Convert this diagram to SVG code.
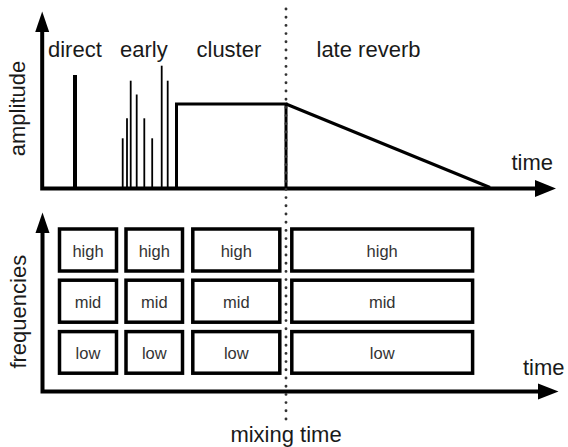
<svg xmlns="http://www.w3.org/2000/svg" width="568" height="447" viewBox="0 0 568 447">
<style>
.lbl{font-family:"Liberation Sans",Arial,sans-serif;font-size:22px;fill:#1a1a1a}
.sm{font-family:"Liberation Sans",Arial,sans-serif;font-size:16.5px;fill:#333;text-anchor:middle}
.axis{fill:none;stroke:#000;stroke-width:4;stroke-linejoin:miter}
.box{fill:#fff;stroke:#000;stroke-width:3.5}
.spike{stroke:#000;stroke-width:1.8}
.dots{stroke:#333;stroke-width:2.9;stroke-linecap:round;stroke-dasharray:0 8.2}
</style>
<rect width="568" height="447" fill="#fff"/>

<g id="top-chart">
  <g id="top-axes">
    <path class="axis" d="M42.2 30 V188.5 H538"/>
    <polygon points="42.2,11.5 35.2,32 49.2,32"/>
    <polygon points="556,188.5 535,180 535,197"/>
  </g>
  <g id="direct">
    <rect x="73" y="75" width="4" height="113" fill="#000"/>
    <text class="lbl" x="48" y="56.5">direct</text>
  </g>
  <g id="early">
    <line class="spike" x1="122.7" y1="138.3" x2="122.7" y2="188"/>
    <line class="spike" x1="127" y1="118.3" x2="127" y2="188"/>
    <line class="spike" x1="130.7" y1="80.7" x2="130.7" y2="188"/>
    <line class="spike" x1="136.7" y1="94.5" x2="136.7" y2="188"/>
    <line class="spike" x1="144.3" y1="118.3" x2="144.3" y2="188"/>
    <line class="spike" x1="152.2" y1="138.3" x2="152.2" y2="188"/>
    <line class="spike" x1="161.7" y1="65.7" x2="161.7" y2="188"/>
    <line class="spike" x1="167.7" y1="80.7" x2="167.7" y2="188"/>
    <text class="lbl" x="120" y="56.5">early</text>
  </g>
  <g id="cluster">
    <path d="M176.5 188 V104 H286 V188" fill="none" stroke="#000" stroke-width="3"/>
    <text class="lbl" x="196.5" y="56.5">cluster</text>
  </g>
  <g id="late-reverb">
    <line x1="286" y1="104" x2="490" y2="187.5" stroke="#000" stroke-width="3"/>
    <text class="lbl" x="316.5" y="56.5">late reverb</text>
  </g>
  <text class="lbl" x="511.5" y="170">time</text>
  <text class="lbl" transform="translate(25,108.5) rotate(-90)" text-anchor="middle">amplitude</text>
</g>

<g id="bottom-chart">
  <g id="bottom-axes">
    <path class="axis" d="M42.5 231 V391.5 H540"/>
    <polygon points="42.5,212.5 35.5,233 49.5,233"/>
    <polygon points="558.5,391.5 538,383.5 538,399.5"/>
  </g>
  <g id="col-direct">
    <g id="direct-high"><rect class="box" x="59.5" y="229" width="57" height="42"/><text class="sm" x="88" y="256.5">high</text></g>
    <g id="direct-mid"><rect class="box" x="59.5" y="280.2" width="57" height="42"/><text class="sm" x="88" y="307.5">mid</text></g>
    <g id="direct-low"><rect class="box" x="59.5" y="331.6" width="57" height="41.6"/><text class="sm" x="88" y="358.5">low</text></g>
  </g>
  <g id="col-early">
    <g id="early-high"><rect class="box" x="126" y="229" width="56.5" height="42"/><text class="sm" x="154.3" y="256.5">high</text></g>
    <g id="early-mid"><rect class="box" x="126" y="280.2" width="56.5" height="42"/><text class="sm" x="154.3" y="307.5">mid</text></g>
    <g id="early-low"><rect class="box" x="126" y="331.6" width="56.5" height="41.6"/><text class="sm" x="154.3" y="358.5">low</text></g>
  </g>
  <g id="col-cluster">
    <g id="cluster-high"><rect class="box" x="192.8" y="229" width="87" height="42"/><text class="sm" x="236.3" y="256.5">high</text></g>
    <g id="cluster-mid"><rect class="box" x="192.8" y="280.2" width="87" height="42"/><text class="sm" x="236.3" y="307.5">mid</text></g>
    <g id="cluster-low"><rect class="box" x="192.8" y="331.6" width="87" height="41.6"/><text class="sm" x="236.3" y="358.5">low</text></g>
  </g>
  <g id="col-late">
    <g id="late-high"><rect class="box" x="291.8" y="229" width="180.8" height="42"/><text class="sm" x="382.2" y="256.5">high</text></g>
    <g id="late-mid"><rect class="box" x="291.8" y="280.2" width="180.8" height="42"/><text class="sm" x="382.2" y="307.5">mid</text></g>
    <g id="late-low"><rect class="box" x="291.8" y="331.6" width="180.8" height="41.6"/><text class="sm" x="382.2" y="358.5">low</text></g>
  </g>
  <text class="lbl" x="523" y="375">time</text>
  <text class="lbl" transform="translate(25.5,311.7) rotate(-90)" text-anchor="middle">frequencies</text>
</g>

<g id="connectors">
  <line id="mixing-line" class="dots" x1="286" y1="9" x2="286" y2="421"/>
</g>
<g id="mixing-time">
  <text class="lbl" x="286" y="441.5" text-anchor="middle">mixing time</text>
</g>
</svg>
